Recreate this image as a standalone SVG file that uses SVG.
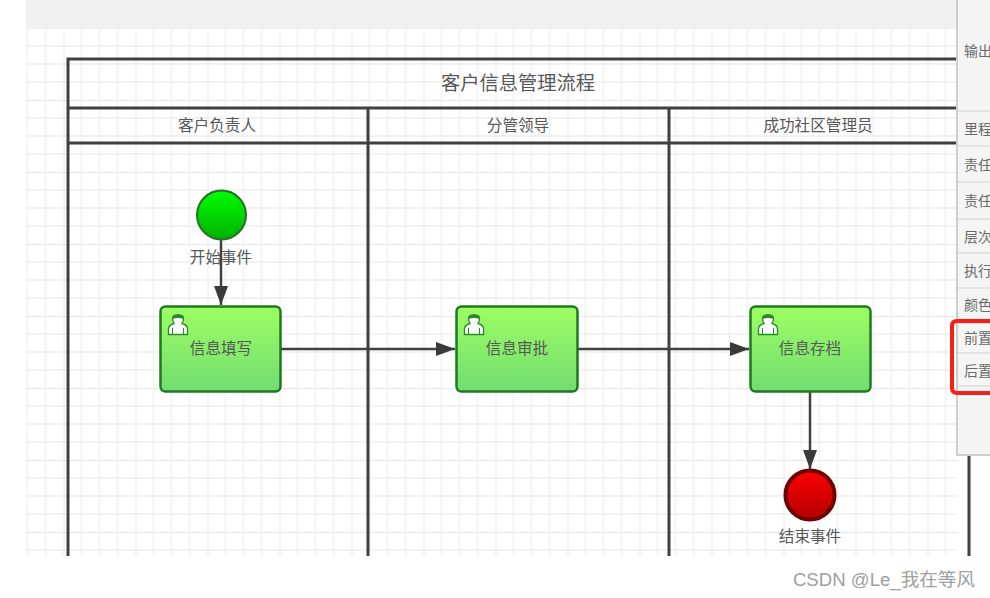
<svg xmlns="http://www.w3.org/2000/svg" width="990" height="598" viewBox="0 0 990 598">
<style>
text{font-family:"Noto Sans CJK SC","Liberation Sans",sans-serif;fill:#585858;text-anchor:middle}
.lane{fill:none;stroke:#404040;stroke-width:3}
.l{font-size:15.6px}
.t{font-size:19.3px}
.p{font-size:14px;fill:#6a6a6a;text-anchor:start}
.sep{stroke:#dcdcdc;stroke-width:1.5}
.task{fill:url(#gt);stroke:#1f7a1f;stroke-width:2.5}
.conn{fill:none;stroke:#404040;stroke-width:2.5}
.user{fill:#fff;stroke:#2a8a2a;stroke-width:1.3}
</style>
<defs>
<pattern id="grid" width="72" height="72" patternUnits="userSpaceOnUse" x="-8.5" y="28">
<path d="M18 0V72M36 0V72M54 0V72M0 18H72M0 36H72M0 54H72" stroke="#eeeeee" stroke-width="1.3" fill="none"/>
<path d="M0 0V72M0 0H72" stroke="#e6e6e6" stroke-width="1.8" fill="none"/>
</pattern>
<linearGradient id="gt" x1="0" y1="0" x2="0" y2="1"><stop offset="0" stop-color="#9dff63"/><stop offset="1" stop-color="#72dc72"/></linearGradient>
<linearGradient id="gs" x1="0" y1="0" x2="0" y2="1"><stop offset="0" stop-color="#00ff00"/><stop offset="1" stop-color="#00b000"/></linearGradient>
<linearGradient id="ge" x1="0" y1="0" x2="0" y2="1"><stop offset="0" stop-color="#ff0000"/><stop offset="1" stop-color="#b00000"/></linearGradient>
<marker id="arrow" markerUnits="userSpaceOnUse" markerWidth="20" markerHeight="14" refX="19" refY="7" orient="auto"><path d="M0 0L19 7L0 14Z" fill="#3a3a3a"/></marker>
<g id="usericon"><path class="user" d="M-9.500 9.500V4Q-9.500 0 -4 -1.500Q-5.500 -4 -5.500 -6.500Q-5.500 -10 0 -10Q5.500 -10 5.500 -6.500Q5.500 -4 4 -1.500Q9.500 0 9.500 4V9.500Z"/><path d="M-5.500 -6Q0 -8 5.500 -6Q6 -10.500 0 -10.500Q-6 -10.500 -5.500 -6Z" fill="#2a8a2a"/><path d="M-5.500 3V9M5.500 3V9" stroke="#2a8a2a" stroke-width="1" fill="none"/></g>
<clipPath id="panelclip"><rect x="957" y="0" width="33" height="455"/></clipPath>
</defs>
<rect width="990" height="598" fill="#fff"/>
<rect x="26" y="0" width="931" height="29" fill="#f1f1f1"/>
<rect x="26" y="29" width="931" height="527" fill="#fff"/>
<rect x="26" y="29" width="931" height="527" fill="url(#grid)"/>
<g id="pool">
<path class="lane" d="M956 59H68V556M68 108H956M68 143H956M368 108V556M669 108V556M969 456V556"/>
<text class="t" x="518" y="90">客户信息管理流程</text>
<text class="l" x="217" y="131">客户负责人</text>
<text class="l" x="518" y="131">分管领导</text>
<text class="l" x="818" y="131">成功社区管理员</text>
</g>
<g id="connectors">
<path class="conn" d="M221 240V305" marker-end="url(#arrow)"/>
<path class="conn" d="M281 349H455" marker-end="url(#arrow)"/>
<path class="conn" d="M578 349H749" marker-end="url(#arrow)"/>
<path class="conn" d="M810 392V469" marker-end="url(#arrow)"/>
</g>
<g id="start"><circle cx="221.500" cy="215" r="24.500" fill="url(#gs)" stroke="#2a6e2a" stroke-width="2"/><text class="l" x="221" y="263">开始事件</text></g>
<g id="task1"><rect class="task" x="160.500" y="306.500" width="120" height="85" rx="5"/><use href="#usericon" x="178" y="325"/><text class="l" x="221" y="354">信息填写</text></g>
<g id="task2"><rect class="task" x="456.500" y="306.500" width="121" height="85" rx="5"/><use href="#usericon" x="474" y="325"/><text class="l" x="517" y="354">信息审批</text></g>
<g id="task3"><rect class="task" x="750.500" y="306.500" width="120" height="85" rx="5"/><use href="#usericon" x="768" y="325"/><text class="l" x="810" y="354">信息存档</text></g>
<g id="end"><circle cx="810" cy="495" r="24.500" fill="url(#ge)" stroke="#6e0000" stroke-width="4"/><text class="l" x="810" y="542">结束事件</text></g>
<g id="panel">
<rect x="957" y="-2" width="40" height="457" fill="#f5f5f5" stroke="#c0c0c0" stroke-width="1.5"/>
<path class="sep" d="M958 111H990M958 146H990M958 182H990M958 219H990M958 253H990M958 288H990M958 323H990M958 353H990M958 386H990"/>
<g clip-path="url(#panelclip)">
<text class="p" x="964" y="56">输出</text>
<text class="p" x="964" y="134">里程</text>
<text class="p" x="964" y="170">责任</text>
<text class="p" x="964" y="206">责任</text>
<text class="p" x="964" y="242">层次</text>
<text class="p" x="964" y="276">执行</text>
<text class="p" x="964" y="310">颜色</text>
<text class="p" x="964" y="343">前置</text>
<text class="p" x="964" y="376">后置</text>
</g>
<path d="M990 321H957Q952 321 952 326V388Q952 393 957 393H990" fill="none" stroke="#f5201a" stroke-width="4"/>
</g>
<text x="884" y="586" font-size="18.600" style="fill:#a0a0a0;font-family:'Liberation Sans','Noto Sans CJK SC',sans-serif">CSDN @Le_我在等风</text>
</svg>
